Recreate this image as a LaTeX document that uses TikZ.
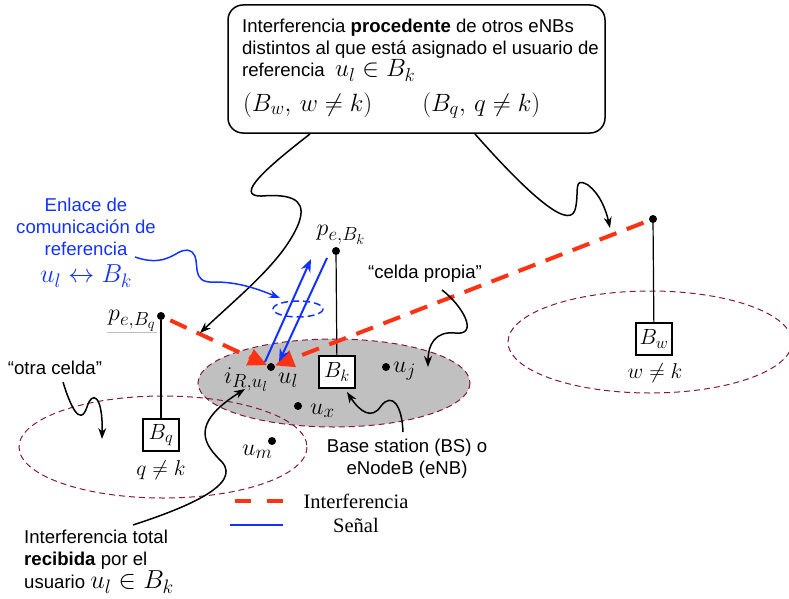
\documentclass[tikz,border=0pt]{standalone}
\usepackage[no-math]{fontspec}
\setmainfont{Liberation Sans}
\newfontfamily\timesfont{Liberation Serif}
\DeclareFontFamily{OML}{cmm}{\skewchar\font127}
\DeclareFontShape{OML}{cmm}{m}{it}{<-6>cmmi5<6-7>cmmi6<7-8>cmmi7<8-9>cmmi8<9-10>cmmi9<10-12>cmmi10<12->cmmi12}{}
\DeclareFontFamily{OMS}{cmsy}{\skewchar\font48}
\DeclareFontShape{OMS}{cmsy}{m}{n}{<-6>cmsy5<6-7>cmsy6<7-8>cmsy7<8-9>cmsy8<9-10>cmsy9<10->cmsy10}{}
\DeclareFontFamily{OT1}{cmr}{\hyphenchar\font45}
\DeclareFontShape{OT1}{cmr}{m}{n}{<-6>cmr5<6-7>cmr6<7-8>cmr7<8-9>cmr8<9-10>cmr9<10-12>cmr10<12-17>cmr12<17->cmr17}{}
\DeclareMathSizes{21.5}{21.5}{16}{12}
\DeclareMathSizes{22}{22}{16.5}{12.5}
\DeclareMathSizes{24}{24}{19}{14.5}
\DeclareMathSizes{25}{25}{18.7}{14}
\DeclareMathSizes{26}{26}{19.5}{14.5}
\usetikzlibrary{arrows.meta}
\definecolor{ired}{RGB}{255,50,20}
\definecolor{sblue}{RGB}{20,50,255}
\definecolor{cellred}{RGB}{130,25,60}
\definecolor{cellgray}{RGB}{192,192,192}
\begin{document}
\begin{tikzpicture}[x=1pt,y=-1pt,
  sans/.style={font=\fontsize{18.6}{22}\selectfont},
  mlab/.style={font=\fontsize{24}{25}\selectfont, inner sep=1pt},
  nlab/.style={font=\fontsize{21.5}{22}\selectfont, inner sep=1pt},
  cell/.style={draw=cellred, line width=1pt, dash pattern=on 6pt off 4pt},
  bsbox/.style={draw, line width=1.2pt, fill=white, minimum width=36pt, minimum height=32pt, inner sep=1pt, font=\fontsize{22}{22}\selectfont},
  dot/.style={circle, fill=black, inner sep=0pt, minimum size=8pt},
  mast/.style={line width=1.2pt},
  interf/.style={draw=ired, line width=4pt, dash pattern=on 18pt off 11pt},
  redtip/.style={-{Triangle[length=19pt,width=17pt,fill=ired,color=ired]}},
  sig/.style={draw=sblue, line width=2pt, -{Stealth[length=13pt,width=10pt]}},
  callout/.style={draw=black, line width=1.5pt, -{Stealth[length=11pt,width=8pt]}},
  bluecall/.style={draw=sblue, line width=1.5pt, -{Stealth[length=11pt,width=8pt]}}
]
\useasboundingbox (0,0) rectangle (789,599);

% cells
\fill[cellgray] (334,383) ellipse [x radius=136, y radius=44];
\draw[cell] (334,383) ellipse [x radius=136, y radius=44];
\draw[cell] (163,447) ellipse [x radius=144, y radius=51];
\draw[cell] (650,342) ellipse [x radius=142, y radius=51];

% base stations
\node[dot] (pk) at (336,251) {};
\node[dot] (pq) at (161,316) {};
\node[dot] (pw) at (653,219) {};
\node[bsbox] (Bk) at (337,372) {$B_k$};
\node[bsbox] (Bq) at (161,435) {$B_q$};
\node[bsbox] (Bw) at (654,339) {$B_w$};
\draw[mast] (pk) -- (Bk);
\draw[mast] (pq) -- (Bq);
\draw[mast] (pw) -- (Bw);
\node[mlab] (lpk) at (341,235) {$p_{e,B_k}$};
\node[mlab] (lpq) at (132,321) {$p_{e,B_q}$};
\draw[black!25, line width=0.8pt] (107,332) -- (157,332);
\node[nlab] (lq) at (161,470) {$q\neq k$};
\node[nlab] (lw) at (655,373) {$w\neq k$};

% users
\node[dot] (ul) at (271,367) {};
\node[dot] (uj) at (386,367) {};
\node[dot] (ux) at (298,406) {};
\node[dot] (um) at (272,441) {};
\node[mlab, anchor=base west, inner sep=0pt] (liR) at (224,383) {$i_{R,u_l}$};
\node[mlab, anchor=base west, inner sep=0pt] (lul) at (278,383) {$u_l$};
\node[mlab, anchor=base west, inner sep=0pt] (luj) at (393,372) {$u_j$};
\node[mlab, anchor=base west, inner sep=0pt] (lux) at (310,414) {$u_x$};
\node[mlab, anchor=base west, inner sep=0pt] (lum) at (242,455) {$u_m$};

% interference
\draw[interf, redtip, shorten <=6pt] (pw) -- (ul);
\draw[interf, redtip, shorten <=6pt] (pq) -- (ul);

% signal
\coordinate (s1a) at (265,362);
\coordinate (s1b) at (311,259);
\coordinate (s2a) at (327,258);
\coordinate (s2b) at (279,362);
\draw[sig] (s1a) -- (s1b);
\draw[sig] (s2a) -- (s2b);
\draw[sblue, line width=1.5pt, dash pattern=on 7pt off 4pt] (298,309) ellipse [x radius=25, y radius=8];

% top callout box
\node[draw, line width=1.5pt, rounded corners=15pt, minimum width=377pt, minimum height=128pt, align=left, inner xsep=0pt, sans] (topbox) at (416.5,69) {\hspace*{8pt}Interferencia \textbf{procedente} de otros eNBs\\\hspace*{8pt}distintos al que está asignado el usuario de\\\hspace*{8pt}referencia\ \ {\fontsize{25}{25}\selectfont$u_l\in B_k$}\\[10pt]\hspace*{9pt}{\fontsize{25}{27}\selectfont$(B_w,\,w\neq k)\qquad(B_q,\,q\neq k)$}};
\coordinate (t1) at (310,134);
\coordinate (t1e) at (200,333);
\draw[callout] (t1) .. controls (270,165) and (232,197) .. (262,196) .. controls (300,193) and (306,205) .. (298,225) .. controls (282,262) and (240,295) .. (t1e);
\coordinate (t2) at (475,134);
\coordinate (t2e) at (610,228);
\draw[callout] (t2) .. controls (520,185) and (568,232) .. (575,210) .. controls (580,192) and (572,176) .. (588,185) .. controls (600,194) and (606,210) .. (t2e);

% blue label
\node[sblue, sans, align=center, anchor=north, inner sep=0pt] (enl) at (86,198) {Enlace de\\comunicación de\\referencia\\[5pt]{\fontsize{26}{26}\selectfont$u_l\leftrightarrow B_k$}};
\coordinate (b1) at (135,257);
\coordinate (b1e) at (280,298);
\draw[bluecall] (b1) .. controls (172,270) and (178,243) .. (192,252) .. controls (202,260) and (188,284) .. (215,282) .. controls (240,282) and (260,290) .. (b1e);

% celda propia
\node[sans] (cp) at (425,274) {“celda propia”};
\coordinate (c1) at (442,290);
\coordinate (c1e) at (428,367);
\draw[callout] (c1) .. controls (462,305) and (480,336) .. (455,333) .. controls (435,331) and (428,345) .. (c1e);

% otra celda
\node[sans] (oc) at (55,368) {“otra celda”};
\coordinate (o1) at (63,382);
\coordinate (o1e) at (102,439);
\draw[callout] (o1) .. controls (70,405) and (80,428) .. (87,407) .. controls (92,390) and (103,395) .. (o1e);

% base station
\node[sans, align=center] (bs) at (407,459) {Base station (BS) o\\eNodeB (eNB)};
\coordinate (bs1) at (403,432);
\coordinate (bs1e) at (347,392);
\draw[callout] (bs1) .. controls (402,405) and (392,392) .. (381,406) .. controls (372,420) and (360,412) .. (bs1e);

% interferencia total
\node[sans, align=left, anchor=north west, inner sep=0pt] (tot) at (24,530) {Interferencia total\\\textbf{recibida} por el\\[1pt]usuario\ {\fontsize{26}{26}\selectfont$u_l\in B_k$}};
\coordinate (it1) at (133,525);
\coordinate (it1e) at (245,389);
\draw[callout] (it1) .. controls (185,508) and (242,485) .. (222,462) .. controls (205,445) and (188,425) .. (it1e);

% legend
\coordinate (lg1a) at (235,501);
\coordinate (lg1b) at (283,501);
\coordinate (lg2a) at (230,525);
\coordinate (lg2b) at (283,525);
\draw[draw=ired, line width=4pt, dash pattern=on 16pt off 16pt] (lg1a) -- (lg1b);
\draw[draw=sblue, line width=2pt] (lg2a) -- (lg2b);
\node[font=\timesfont\fontsize{20.5}{22}\selectfont] (lgi) at (356,501) {Interferencia};
\node[font=\timesfont\fontsize{20.5}{22}\selectfont] (lgs) at (356,525) {Señal};
\end{tikzpicture}
\end{document}
